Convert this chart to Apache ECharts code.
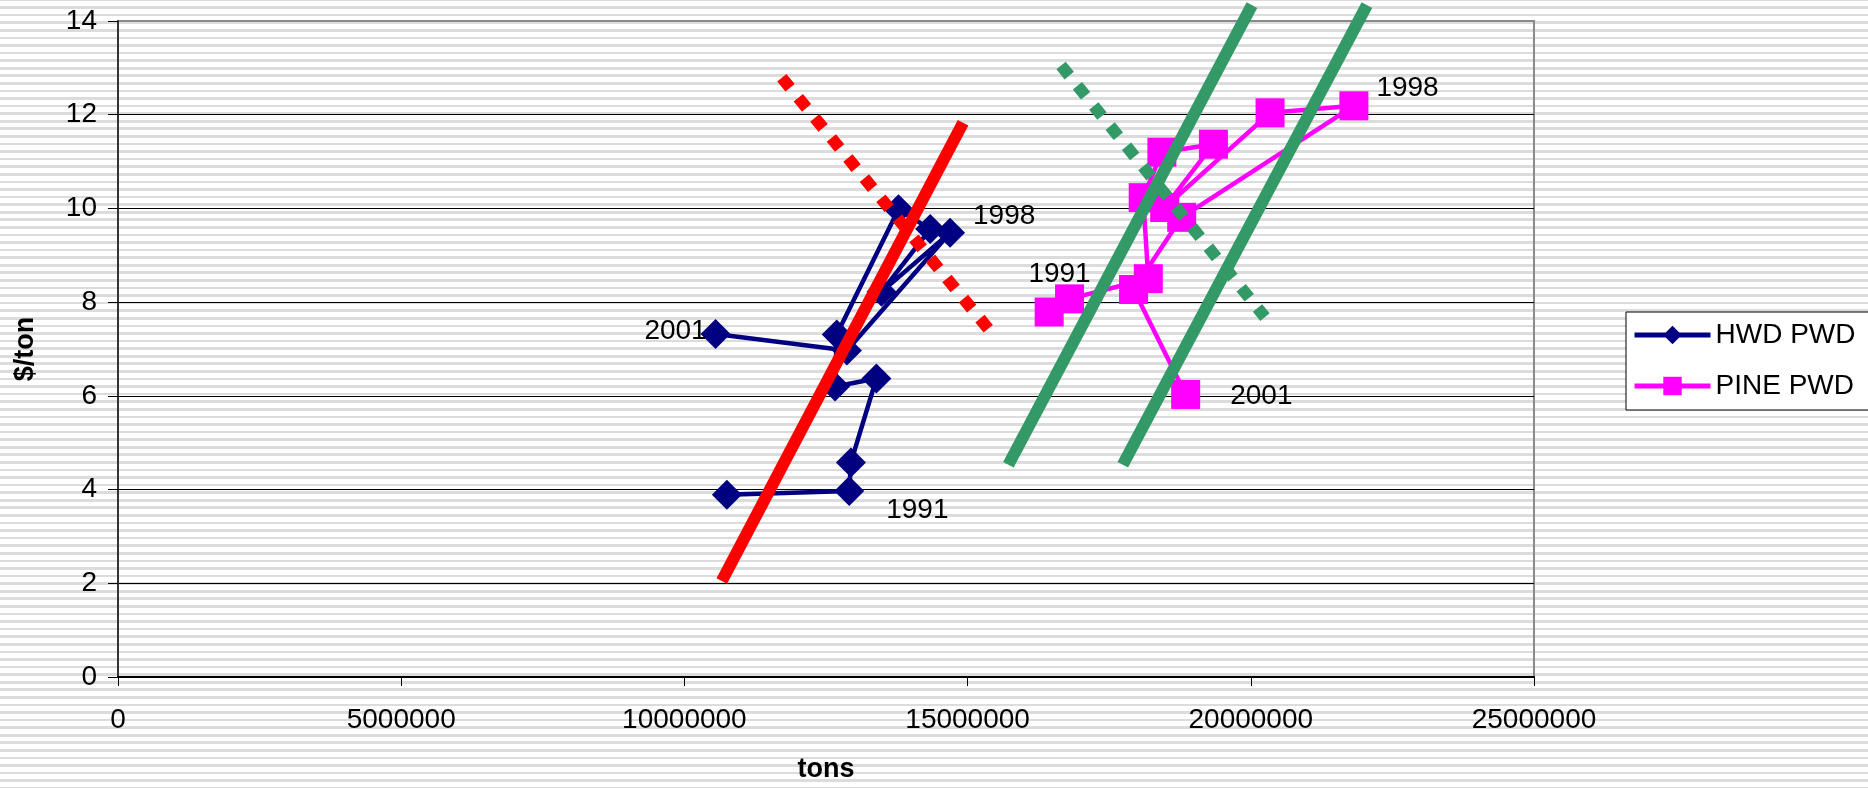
<!DOCTYPE html>
<html>
<head>
<meta charset="utf-8">
<script src="https://cdn.jsdelivr.net/npm/echarts@6/dist/echarts.min.js"></script>
<style>
  html, body { margin: 0; padding: 0; width: 1868px; height: 788px; overflow: hidden; }
  body {
    background: repeating-linear-gradient(to bottom,
      #dcdcdc 0px, #dcdcdc 1.3px, #ffffff 1.3px, #ffffff 6.2px, #dcdcdc 6.2px, #dcdcdc 7.58px);
  }
  #chart { width: 1868px; height: 788px; }
</style>
</head>
<body>
<div id="chart"></div>
<script>
// Hardwood pulpwood: tons harvested vs price ($/ton), in series order
const hwdTons  = [10750000, 12910000, 12940000, 13390000, 12660000, 12690000,
                  13780000, 14340000, 13480000, 14690000, 12870000, 10550000];
const hwdPrice = [3.89, 3.97, 4.58, 6.37, 6.20, 7.31, 9.98, 9.56, 8.22, 9.48, 6.97, 7.32];
const hwdYears = ['', '1991', '', '', '', '', '', '', '', '1998', '', '2001'];

// Pine pulpwood
const pineTons  = [16440000, 16800000, 18190000, 18100000, 18430000, 19340000,
                   18480000, 20340000, 21820000, 18780000, 17930000, 18850000];
const pinePrice = [7.79, 8.07, 8.50, 10.23, 11.20, 11.37, 10.02, 12.04, 12.19, 9.81, 8.27, 6.03];
const pineYears = ['', '1991', '', '', '', '', '', '', '1998', '', '', '2001'];

// Supply (solid) and demand (dotted) lines, as [tons, $/ton] end points
const hwdSupply   = [[10660000, 2.05], [14920000, 11.83]];
const hwdDemand   = [[11720000, 12.79], [15380000, 7.41]];
const pineSupplyA = [[15720000, 4.53], [20020000, 14.34]];
const pineSupplyB = [[17740000, 4.53], [22050000, 14.34]];
const pineDemand  = [[16650000, 13.05], [20250000, 7.68]];

// Axis ticks
const xMin = 0, xMax = 25000000, xStep = 5000000;
const yMin = 0, yMax = 14, yStep = 2;

const FONT = '"Liberation Sans", Arial, sans-serif';
const FONT_SIZE = 28;

// Where each year label sits relative to its marker
const hwdLabelPlace = {
  '1991': { position: 'right', distance: 22, offset: [0, 19] },
  '1998': { position: 'right', distance: 8, offset: [0, -17] },
  '2001': { position: 'inside', offset: [-40, -3] }
};
const pineLabelPlace = {
  '1991': { position: 'top', distance: 0, offset: [-10, 4] },
  '1998': { position: 'right', distance: 8, offset: [0, -18] },
  '2001': { position: 'right', distance: 30, offset: [0, 2] }
};

function buildPoints(tons, price, years, place) {
  return tons.map(function (t, i) {
    const item = { value: [t, price[i]] };
    if (years[i]) {
      item.label = Object.assign({
        show: true, formatter: years[i], color: '#000000',
        fontSize: FONT_SIZE, fontFamily: FONT
      }, place[years[i]]);
    }
    return item;
  });
}

function trendLine(data, color, dashed) {
  return {
    type: 'line',
    data: data,
    symbol: 'none',
    clip: false,
    silent: true,
    z: 3,
    emphasis: { disabled: true },
    lineStyle: { color: color, width: 12, cap: 'butt', type: dashed ? [13, 13] : 'solid' }
  };
}

const chart = echarts.init(document.getElementById('chart'), null, { renderer: 'canvas' });

chart.setOption({
  animation: false,
  backgroundColor: 'transparent',
  textStyle: { fontFamily: FONT },
  grid: {
    left: 118, right: 334, top: 21, bottom: 108,
    show: true, borderColor: '#8a8a8a', borderWidth: 2, backgroundColor: 'transparent'
  },
  legend: {
    data: ['HWD PWD', 'PINE PWD'],
    orient: 'vertical',
    left: 1626, top: 312,
    padding: [9, 14, 10, 6],
    itemGap: 23, itemWidth: 76, itemHeight: 23,
    backgroundColor: '#ffffff',
    borderColor: '#000000', borderWidth: 1, borderRadius: 0,
    selectedMode: false,
    lineStyle: { width: 5 },
    textStyle: { fontSize: FONT_SIZE, color: '#000000', fontFamily: FONT }
  },
  xAxis: {
    type: 'value',
    min: xMin, max: xMax, interval: xStep,
    name: 'tons', nameLocation: 'middle', nameGap: 79,
    nameTextStyle: { fontSize: 27, fontWeight: 'bold', color: '#000000', fontFamily: FONT },
    axisLine: { show: true, onZero: false, lineStyle: { color: '#000000', width: 2 } },
    axisTick: { show: true, length: 9, lineStyle: { color: '#000000', width: 1 } },
    axisLabel: {
      fontSize: FONT_SIZE, color: '#000000', margin: 29, fontFamily: FONT,
      formatter: function (v) { return String(v); }
    },
    splitLine: { show: false }
  },
  yAxis: {
    type: 'value',
    min: yMin, max: yMax, interval: yStep,
    name: '$/ton', nameLocation: 'middle', nameGap: 79,
    nameTextStyle: { fontSize: 27, fontWeight: 'bold', color: '#000000', fontFamily: FONT },
    axisLine: { show: true, lineStyle: { color: '#333333', width: 2 } },
    axisTick: { show: true, length: 10, lineStyle: { color: '#000000', width: 1 } },
    axisLabel: { fontSize: FONT_SIZE, color: '#000000', margin: 21, fontFamily: FONT },
    splitLine: { show: true, showMaxLine: false, lineStyle: { color: '#000000', width: 1 } }
  },
  series: [
    {
      name: 'HWD PWD',
      type: 'line',
      data: buildPoints(hwdTons, hwdPrice, hwdYears, hwdLabelPlace),
      symbol: 'diamond', symbolSize: 30,
      itemStyle: { color: '#000080' },
      lineStyle: { color: '#000080', width: 4.5 },
      label: { show: false, fontSize: FONT_SIZE, color: '#000000', fontFamily: FONT },
      emphasis: { disabled: true },
      z: 2
    },
    {
      name: 'PINE PWD',
      type: 'line',
      data: buildPoints(pineTons, pinePrice, pineYears, pineLabelPlace),
      symbol: 'rect', symbolSize: 29,
      itemStyle: { color: '#ff00ff' },
      lineStyle: { color: '#ff00ff', width: 4.5 },
      label: { show: false, fontSize: FONT_SIZE, color: '#000000', fontFamily: FONT },
      emphasis: { disabled: true },
      z: 2
    },
    trendLine(hwdSupply, '#ff0000', false),
    trendLine(hwdDemand, '#ff0000', true),
    trendLine(pineSupplyA, '#339966', false),
    trendLine(pineSupplyB, '#339966', false),
    trendLine(pineDemand, '#339966', true)
  ]
});
</script>
</body>
</html>
